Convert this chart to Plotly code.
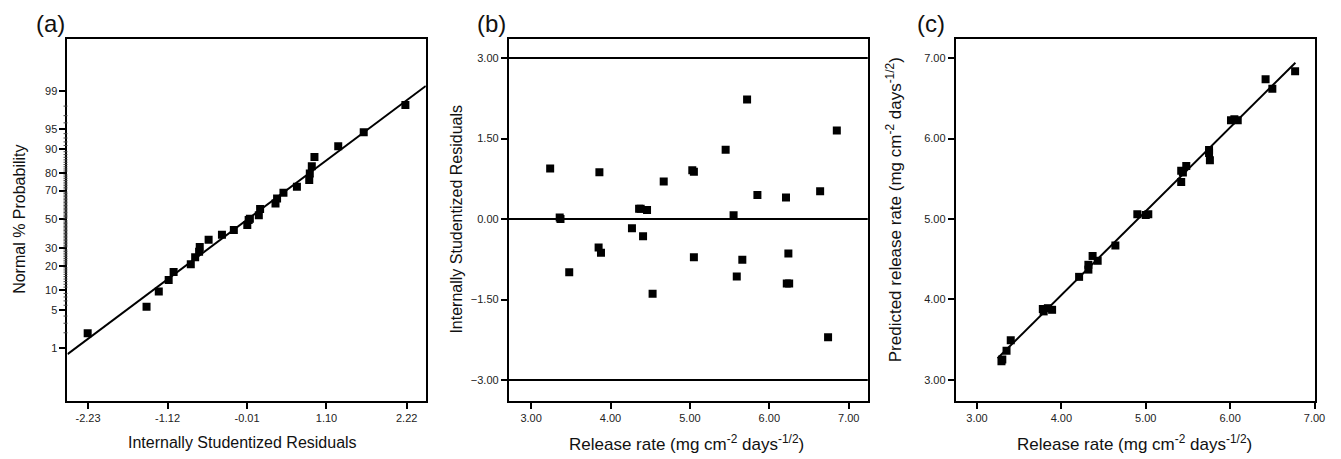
import plotly.graph_objects as go
from statistics import NormalDist

# ---------------- data ----------------
# (a) normal probability plot of internally studentized residuals
a_resid = [-2.235, -1.413, -1.242, -1.104, -1.035, -0.795, -0.734, -0.679, -0.670, -0.546,
           -0.360, -0.194, -0.006, 0.013, 0.030, 0.155, 0.173, 0.388, 0.410, 0.499,
           0.687, 0.859, 0.867, 0.895, 0.932, 1.264, 1.620, 2.202]
a_prob = [1.95, 5.67, 9.6, 13.6, 17.0, 20.8, 24.6, 27.9, 30.9, 35.6,
          39.0, 42.5, 46.0, 49.6, 50.5, 53.1, 57.5, 61.4, 64.8, 68.5,
          72.3, 76.2, 79.8, 83.3, 87.1, 90.8, 94.3, 98.1]
a_line_x = [-2.517, 2.487]
a_line_p = [0.73, 99.22]
a_xticks = [-2.23, -1.12, -0.01, 1.10, 2.22]
a_xtick_text = ["-2.23", "-1.12", "-0.01", "1.10", "2.22"]
a_yticks_p = [1, 5, 10, 20, 30, 50, 70, 80, 90, 95, 99]

# (b) residuals vs release rate
b_rate = [3.24, 3.36, 3.37, 3.48, 3.86, 3.85, 3.88, 4.27, 4.36, 4.38,
          4.46, 4.41, 4.53, 4.67, 5.03, 5.05, 5.05, 5.45, 5.55, 5.59,
          5.66, 5.72, 5.85, 6.21, 6.22, 6.25, 6.24, 6.64, 6.74, 6.85]
b_resid = [0.94, 0.03, 0.00, -0.99, 0.87, -0.53, -0.63, -0.17, 0.19, 0.19,
           0.17, -0.32, -1.39, 0.70, 0.91, 0.88, -0.71, 1.29, 0.07, -1.07,
           -0.76, 2.23, 0.45, 0.40, -1.20, -1.20, -0.64, 0.52, -2.20, 1.65]
b_ref_lines = [3.0, 0.0, -3.0]
b_yticks = [-3.0, -1.5, 0.0, 1.5, 3.0]

# (c) predicted vs actual release rate
c_actual = [3.29, 3.30, 3.35, 3.40, 3.78, 3.79, 3.84, 3.89, 4.21, 4.32,
            4.32, 4.37, 4.43, 4.64, 4.90, 5.00, 5.03, 5.42, 5.42, 5.44,
            5.48, 5.75, 5.75, 5.76, 6.01, 6.05, 6.09, 6.42, 6.50, 6.77]
c_pred = [3.23, 3.25, 3.36, 3.49, 3.88, 3.85, 3.89, 3.87, 4.28, 4.37,
          4.43, 4.54, 4.48, 4.67, 5.06, 5.05, 5.06, 5.46, 5.60, 5.58,
          5.66, 5.86, 5.82, 5.73, 6.23, 6.24, 6.23, 6.74, 6.62, 6.84]
c_fit_x = [3.244, 6.773]
c_fit_y = [3.266, 6.945]
rate_ticks = [3, 4, 5, 6, 7]

# ---------------- helpers ----------------
W, H = 1341, 459
nd = NormalDist()
def probit(ps):
    return [nd.inv_cdf(p / 100.0) for p in ps]

def px(x):
    return x / W
def py(y):
    return 1 - y / H

FONT = "Liberation Sans, Arial, sans-serif"
mk = dict(symbol="square", size=8, color="black")

fig = go.Figure()
fig.add_trace(go.Scatter(x=a_resid, y=probit(a_prob), mode="markers", marker=mk,
                         xaxis="x", yaxis="y", showlegend=False))
fig.add_trace(go.Scatter(x=a_line_x, y=probit(a_line_p), mode="lines",
                         line=dict(color="black", width=2), xaxis="x", yaxis="y", showlegend=False))
fig.add_trace(go.Scatter(x=b_rate, y=b_resid, mode="markers", marker=mk,
                         xaxis="x2", yaxis="y2", showlegend=False))
fig.add_trace(go.Scatter(x=c_actual, y=c_pred, mode="markers", marker=mk,
                         xaxis="x3", yaxis="y3", showlegend=False))
fig.add_trace(go.Scatter(x=c_fit_x, y=c_fit_y, mode="lines",
                         line=dict(color="black", width=2), xaxis="x3", yaxis="y3", showlegend=False))

for v in b_ref_lines:
    fig.add_shape(type="line", xref="x2 domain", yref="y2", x0=0, x1=1, y0=v, y1=v,
                  line=dict(color="black", width=2))

# minor probability ticks on panel (a)
minor_p = [p for p in range(2, 99) if p not in a_yticks_p]
a_width_px = 429 - 68
for zv in probit(minor_p):
    fig.add_shape(type="line", xref="x domain", yref="y", x0=-4 / a_width_px, x1=0,
                  y0=zv, y1=zv, line=dict(color="#444", width=1))

ax_common = dict(showline=True, mirror=True, linecolor="black", linewidth=2,
                 ticks="outside", ticklen=6, tickwidth=1.5, tickcolor="black",
                 showgrid=False, zeroline=False,
                 tickfont=dict(family=FONT, size=11, color="#222"))

y0d, y1d = py(401), py(39)

fig.update_layout(
    width=W, height=H, margin=dict(l=0, r=0, t=0, b=0),
    paper_bgcolor="white", plot_bgcolor="white",
    font=dict(family=FONT, color="#222"),
    xaxis=dict(domain=[px(68), px(429)], range=[-2.517, 2.487], anchor="y",
               tickmode="array", tickvals=a_xticks, ticktext=a_xtick_text, **ax_common),
    yaxis=dict(domain=[y0d, y1d], range=[-3.29, 3.27], anchor="x",
               tickmode="array", tickvals=probit(a_yticks_p),
               ticktext=[str(p) for p in a_yticks_p], **ax_common),
    xaxis2=dict(domain=[px(512.7), px(874.3)], range=[2.72, 7.24], anchor="y2",
                tickmode="array", tickvals=rate_ticks, tickformat=".2f", **ax_common),
    yaxis2=dict(domain=[y0d, y1d], range=[-3.39, 3.355], anchor="x2",
                tickmode="array", tickvals=b_yticks, tickformat=".2f", **ax_common),
    xaxis3=dict(domain=[px(963), px(1325)], range=[2.749, 7.007], anchor="y3",
                tickmode="array", tickvals=rate_ticks, tickformat=".2f", **ax_common),
    yaxis3=dict(domain=[y0d, y1d], range=[2.735, 7.24], anchor="x3",
                tickmode="array", tickvals=rate_ticks, tickformat=".2f", **ax_common),
)

rate_title = "Release rate (mg cm<sup>-2</sup> days<sup>-1/2</sup>)"
ann = [
    ("(a)", 51, 23, 0, 24),
    ("(b)", 495, 23, 0, 24),
    ("(c)", 938, 23, 0, 24),
    ("Internally Studentized Residuals", 244, 442, 0, 16),
    ("Normal % Probability", 19, 219, -90, 16),
    (rate_title, 692, 443, 0, 17),
    ("Internally Studentized Residuals", 459, 219, -90, 16),
    (rate_title, 1143, 443, 0, 17),
    ("Predicted release rate (mg cm<sup>-2</sup> days<sup>-1/2</sup>)", 901, 210, -90, 17),
]
for text, x, y, ang, size in ann:
    fig.add_annotation(text=text, x=px(x), y=py(y), xref="paper", yref="paper",
                       xanchor="center", yanchor="middle", textangle=ang, showarrow=False,
                       font=dict(family=FONT, size=size, color="#111"))

fig.write_html("out.html", config={"displayModeBar": False},
               post_script="document.body.style.margin='0';document.body.style.overflow='hidden';")
